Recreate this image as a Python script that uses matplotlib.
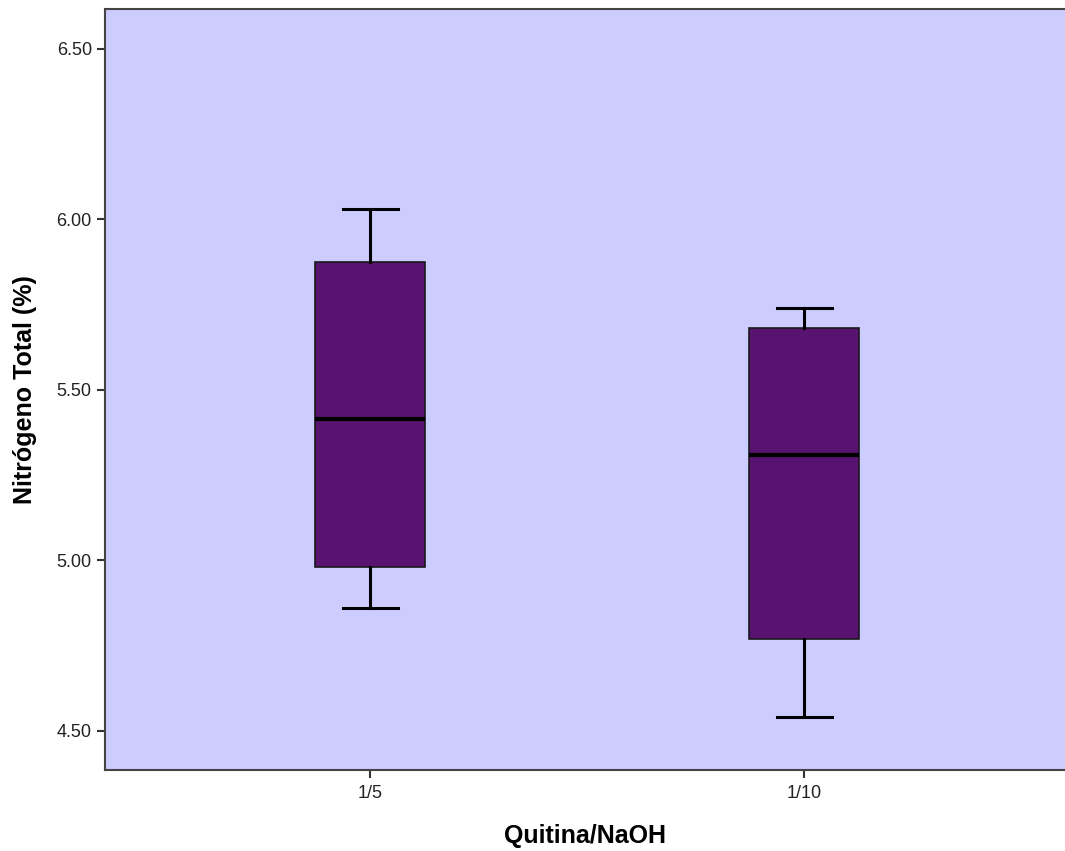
import matplotlib
matplotlib.use("Agg")
import matplotlib.pyplot as plt

categories = ["1/5", "1/10"]
whislo = [4.86, 4.54]
q1 = [4.98, 4.77]
med = [5.415, 5.31]
q3 = [5.875, 5.68]
whishi = [6.03, 5.74]
yticks = [4.50, 5.00, 5.50, 6.00, 6.50]

plt.rcParams['font.family'] = ['Liberation Sans', 'DejaVu Sans']

fig = plt.figure(figsize=(10.65, 8.51), dpi=100)
ax = fig.add_axes([105/1065, 1-770/851, (1065-105)/1065, (770-9)/851])
ax.set_facecolor('#CCCCFF')

stats = []
for i, c in enumerate(categories):
    stats.append(dict(label=c, whislo=whislo[i], q1=q1[i], med=med[i], q3=q3[i], whishi=whishi[i], fliers=[]))

ax.bxp(stats, positions=[1, 2], widths=0.253, patch_artist=True, showfliers=False,
       boxprops=dict(facecolor='#58126F', edgecolor='#1a1a1a', linewidth=1.2),
       medianprops=dict(color='black', linewidth=3),
       whiskerprops=dict(color='black', linewidth=2.2),
       capprops=dict(color='black', linewidth=2.2))

ax.set_xlim(0.389, 2.601)
ax.set_ylim(4.385, 6.617)
ax.set_yticks(yticks)
ax.set_yticklabels([f"{v:.2f}" for v in yticks])
ax.tick_params(axis='both', labelsize=13, length=6, width=1.5, color='#333333', labelcolor='#222222')
ax.tick_params(axis='x', pad=5)

for s in ['left', 'bottom', 'top']:
    ax.spines[s].set_color('#444444')
    ax.spines[s].set_linewidth(1.5)
ax.spines['right'].set_visible(False)

ax.set_xlabel('Quitina/NaOH', fontsize=18, fontweight='bold', labelpad=16)
ax.set_ylabel('Nitrógeno Total (%)', fontsize=18, fontweight='bold', labelpad=14)

fig.savefig('out.png', dpi=100)
